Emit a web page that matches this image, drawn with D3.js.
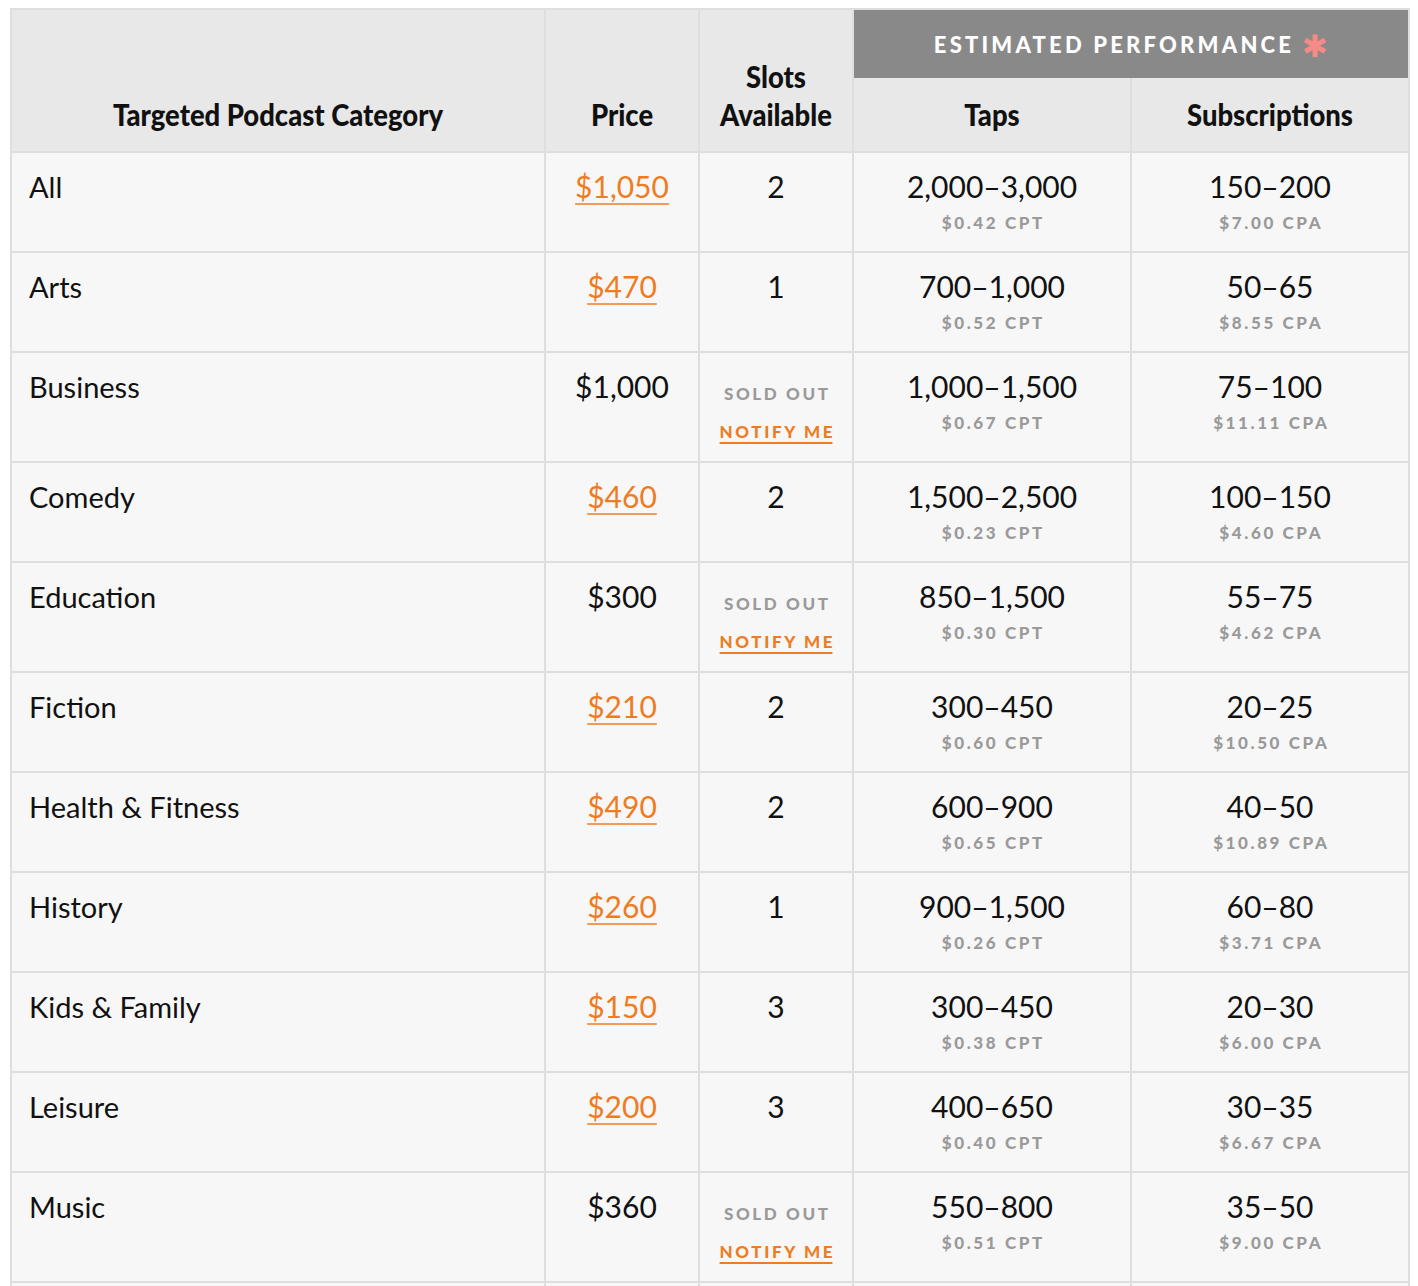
<!DOCTYPE html>
<html>
<head>
<meta charset="utf-8">
<script src="https://cdn.jsdelivr.net/npm/d3@7"></script>
<style>
  body { margin: 0; background: #fff; }
  svg { display: block; }
</style>
</head>
<body>
<svg id="chart" width="1418" height="1286"></svg>
<script>
// table data
const categories = ["All", "Arts", "Business", "Comedy", "Education", "Fiction",
  "Health & Fitness", "History", "Kids & Family", "Leisure", "Music", ""];
const prices = ["$1,050", "$470", "$1,000", "$460", "$300", "$210", "$490", "$260", "$150", "$200", "$360", ""];
const slots = [2, 1, null, 2, null, 2, 2, 1, 3, 3, null, 0];
const taps = ["2,000–3,000", "700–1,000", "1,000–1,500", "1,500–2,500", "850–1,500", "300–450",
  "600–900", "900–1,500", "300–450", "400–650", "550–800", ""];
const cpt = ["$0.42", "$0.52", "$0.67", "$0.23", "$0.30", "$0.60", "$0.65", "$0.26", "$0.38", "$0.40", "$0.51", ""];
const subs = ["150–200", "50–65", "75–100", "100–150", "55–75", "20–25", "40–50", "60–80", "20–30", "30–35", "35–50", ""];
const cpa = ["$7.00", "$8.55", "$11.11", "$4.60", "$4.62", "$10.50", "$10.89", "$3.71", "$6.00", "$6.67", "$9.00", ""];
const headers = ["Targeted Podcast Category", "Price", "Slots\nAvailable", "Taps", "Subscriptions"];

const rows = categories.map((c, i) => ({
  cat: c, price: prices[i], slots: slots[i], soldOut: slots[i] === null,
  taps: taps[i], cpt: cpt[i], subs: subs[i], cpa: cpa[i]
}));

const colW = [534, 154, 154, 278, 278];
const colX = [11];
colW.forEach((w) => colX.push(colX[colX.length - 1] + w));
const headTop = 10, bandH = 68, headBottom = 152;

const orange = "#ee7c22";
const grey = "#9a9a9a";
const line = "#dedede";
const bodyFont = "'Lato', 'Noto Sans', sans-serif";

// row positions
let y = headBottom;
rows.forEach((r) => {
  r.top = y;
  r.h = r.soldOut ? 110 : 100;
  y += r.h;
});

const svg = d3.select("#chart");

// backgrounds
svg.append("rect").attr("x", colX[0]).attr("y", headTop - 1)
  .attr("width", colX[5] - colX[0]).attr("height", headBottom - headTop + 1)
  .attr("fill", "#e8e8e8");
svg.append("rect").attr("x", colX[0]).attr("y", headBottom)
  .attr("width", colX[5] - colX[0]).attr("height", 1286 - headBottom)
  .attr("fill", "#f7f7f7");
svg.append("rect").attr("x", colX[3]).attr("y", headTop)
  .attr("width", colX[5] - colX[3]).attr("height", bandH)
  .attr("fill", "#898989");

// grid lines
svg.append("g").selectAll("line")
  .data(rows)
  .join("line")
  .attr("x1", colX[0]).attr("x2", colX[5])
  .attr("y1", (d) => d.top).attr("y2", (d) => d.top)
  .attr("stroke", line).attr("stroke-width", 2);

svg.append("g").selectAll("line")
  .data(colX)
  .join("line")
  .attr("x1", (d) => d).attr("x2", (d) => d)
  .attr("y1", (d, i) => (i === 4 ? headTop + bandH : headTop - 1))
  .attr("y2", 1286)
  .attr("stroke", line).attr("stroke-width", 2);

svg.append("line").attr("x1", colX[0] - 1).attr("x2", colX[5] + 1)
  .attr("y1", headTop - 1).attr("y2", headTop - 1)
  .attr("stroke", line).attr("stroke-width", 2);

// header band
const bandX = (colX[3] + colX[5]) / 2 - 3;
svg.append("text")
  .attr("x", bandX - 14).attr("y", 53)
  .attr("text-anchor", "middle")
  .attr("font-family", "'Lato', sans-serif").attr("font-weight", 900)
  .attr("font-size", 22).attr("letter-spacing", 3.2)
  .attr("fill", "#fff")
  .text("ESTIMATED PERFORMANCE");
svg.append("text")
  .attr("x", 1315).attr("y", 57)
  .attr("text-anchor", "middle")
  .attr("font-family", "'DejaVu Sans', sans-serif").attr("font-weight", 700)
  .attr("font-size", 31).attr("fill", "#f58a86")
  .text("✱");

// column headers
const headG = svg.append("g")
  .attr("font-family", "'Lato', sans-serif").attr("font-weight", 900)
  .attr("font-size", 31).attr("fill", "#111").attr("text-anchor", "middle");
headers.forEach((h, i) => {
  const lines = h.split("\n");
  const cx = (colX[i] + colX[i + 1]) / 2;
  lines.forEach((t, j) => {
    headG.append("text")
      .attr("transform", `translate(${cx},${126 - (lines.length - 1 - j) * 38}) scale(0.885,1)`)
      .text(t);
  });
});

// body
const rowG = svg.append("g").selectAll("g")
  .data(rows)
  .join("g")
  .attr("transform", (d) => `translate(0,${d.top})`)
  .attr("font-family", bodyFont);

const main = { size: 29, num: 30, dy: 46 };
const small = { size: 17, ls: 2.6 };

rowG.append("text")
  .attr("x", 29).attr("y", main.dy)
  .attr("font-size", main.size).attr("fill", "#111")
  .text((d) => d.cat);

const priceX = (colX[1] + colX[2]) / 2;
const priceText = rowG.append("text")
  .attr("x", priceX).attr("y", main.dy)
  .attr("text-anchor", "middle")
  .attr("font-size", main.num)
  .attr("fill", (d) => (d.soldOut ? "#111" : orange))
  .text((d) => d.price);

// underline for linked prices
priceText.each(function (d) {
  if (d.soldOut || !d.price) return;
  const b = this.getBBox();
  d3.select(this.parentNode).append("line")
    .attr("x1", b.x).attr("x2", b.x + b.width)
    .attr("y1", main.dy + 6).attr("y2", main.dy + 6)
    .attr("stroke", orange).attr("stroke-width", 1.6);
});

const slotX = (colX[2] + colX[3]) / 2;
rowG.filter((d) => !d.soldOut && d.slots)
  .append("text")
  .attr("x", slotX).attr("y", main.dy)
  .attr("text-anchor", "middle")
  .attr("font-size", main.num).attr("fill", "#111")
  .text((d) => d.slots);

const sold = rowG.filter((d) => d.soldOut);
sold.append("text")
  .attr("x", slotX + small.ls / 2).attr("y", 48)
  .attr("text-anchor", "middle")
  .attr("font-size", small.size).attr("font-weight", 900)
  .attr("letter-spacing", small.ls).attr("fill", grey)
  .text("SOLD OUT");
sold.append("text")
  .attr("x", slotX + small.ls / 2).attr("y", 86)
  .attr("text-anchor", "middle")
  .attr("font-size", small.size).attr("font-weight", 900)
  .attr("letter-spacing", small.ls).attr("fill", orange)
  .text("NOTIFY ME")
  .each(function () {
    const b = this.getBBox();
    d3.select(this.parentNode).append("line")
      .attr("x1", b.x).attr("x2", b.x + b.width - small.ls)
      .attr("y1", 91).attr("y2", 91)
      .attr("stroke", orange).attr("stroke-width", 2);
  });

// performance columns
const perf = [
  { x: (colX[3] + colX[4]) / 2, main: "taps", sub: "cpt", unit: "CPT" },
  { x: (colX[4] + colX[5]) / 2, main: "subs", sub: "cpa", unit: "CPA" }
];
perf.forEach((p) => {
  rowG.append("text")
    .attr("x", p.x).attr("y", main.dy)
    .attr("text-anchor", "middle")
    .attr("font-size", main.num).attr("fill", "#111")
    .text((d) => d[p.main]);
  rowG.append("text")
    .attr("x", p.x + small.ls / 2).attr("y", 77)
    .attr("text-anchor", "middle")
    .attr("font-size", small.size).attr("font-weight", 900)
    .attr("letter-spacing", small.ls).attr("fill", grey)
    .text((d) => (d[p.sub] ? `${d[p.sub]} ${p.unit}` : ""));
});
</script>
</body>
</html>
